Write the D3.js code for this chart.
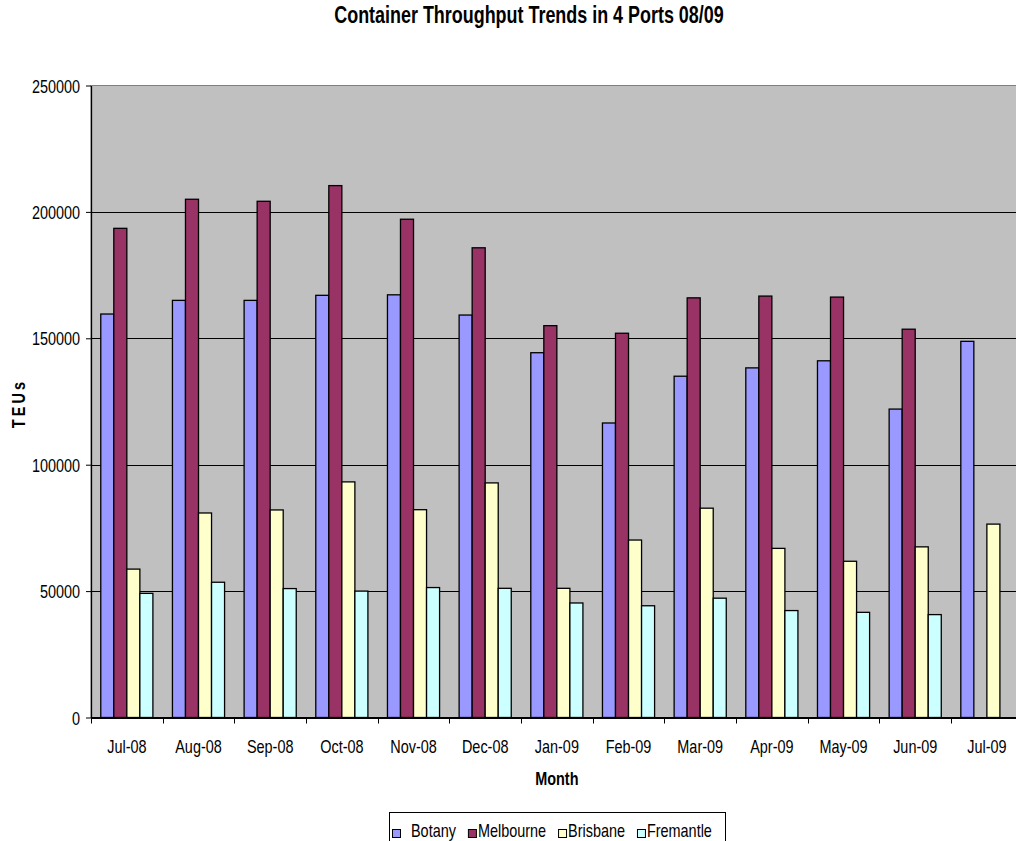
<!DOCTYPE html>
<html>
<head>
<meta charset="utf-8">
<script src="https://cdn.jsdelivr.net/npm/d3@7"></script>
<style>
  body { margin: 0; background: #fff; }
  svg { display: block; font-family: "Liberation Sans", Arial, sans-serif; }
</style>
</head>
<body>
<svg width="1016" height="841"></svg>
<script>
var months = ["Jul-08", "Aug-08", "Sep-08", "Oct-08", "Nov-08", "Dec-08", "Jan-09",
	"Feb-09", "Mar-09", "Apr-09", "May-09", "Jun-09", "Jul-09"];
var botany = [159600, 165000, 165000, 167000, 167200, 159200, 144300, 116500, 135000, 138300, 141100, 122000, 148800];
var melbourne = [193500, 205000, 204200, 210400, 197100, 185800, 155000, 152000, 166000, 166700, 166300, 153600, null];
var brisbane = [58700, 80900, 82100, 93200, 82200, 92800, 51100, 70200, 82800, 66900, 61800, 67500, 76500];
var fremantle = [49100, 53500, 51000, 50000, 51400, 51100, 45300, 44200, 47200, 42300, 41600, 40700, null];
var seriesNames = ["Botany", "Melbourne", "Brisbane", "Fremantle"];
var seriesColors = ["#9999FF", "#993366", "#FFFFCC", "#CCFFFF"];
var yTicks = [0, 50000, 100000, 150000, 200000, 250000];

var seriesValues = [botany, melbourne, brisbane, fremantle];

var NARROW = 0.78; // text in the original is a condensed face
var FONT = "18.5px";
var svg = d3.select("svg");

var plotLeft = 91, plotTop = 85.5, plotBottom = 717.5;
var step = 71.67;
var plotRight = plotLeft + step * months.length;
var gap = 0.2727;

var x = d3.scaleBand().domain(months).range([plotLeft, plotRight])
	.paddingInner(gap).paddingOuter(gap / 2);
var x1 = d3.scaleBand().domain(seriesNames).range([0, x.bandwidth()]);
var y = d3.scaleLinear().domain([0, 250000]).range([plotBottom, plotTop]);

// plot area
svg.append("rect")
	.attr("x", plotLeft).attr("y", plotTop)
	.attr("width", plotRight - plotLeft).attr("height", plotBottom - plotTop)
	.attr("fill", "#C0C0C0").attr("stroke", "#808080");

// gridlines
svg.append("g").selectAll("line")
	.data(yTicks.slice(1, -1))
	.enter().append("line")
	.attr("x1", plotLeft).attr("x2", plotRight)
	.attr("y1", function(d) { return Math.round(y(d)) + 0.5; })
	.attr("y2", function(d) { return Math.round(y(d)) + 0.5; })
	.attr("stroke", "#000").attr("stroke-width", 1);

// bars
var groups = svg.append("g").selectAll("g")
	.data(months)
	.enter().append("g")
	.attr("transform", function(d) { return "translate(" + x(d) + ",0)"; });

groups.selectAll("rect")
	.data(function(d, i) {
		return seriesNames.map(function(s, j) { return { key: s, idx: j, value: seriesValues[j][i] }; })
			.filter(function(v) { return v.value != null; });
	})
	.enter().append("rect")
	.attr("x", function(d) { return x1(d.key); })
	.attr("y", function(d) { return y(d.value); })
	.attr("width", x1.bandwidth())
	.attr("height", function(d) { return plotBottom - y(d.value); })
	.attr("fill", function(d) { return seriesColors[d.idx]; })
	.attr("stroke", "#000").attr("stroke-width", 1.3);

// y axis
var yAxis = d3.axisLeft(y).tickValues(yTicks).tickSize(5).tickSizeOuter(0).tickFormat(d3.format("d"));
var gy = svg.append("g").attr("transform", "translate(" + plotLeft + ",0)").call(yAxis);
gy.select(".domain").attr("stroke", "#000").attr("stroke-width", 1.3);
gy.selectAll(".tick line").attr("stroke", "#000");
gy.selectAll("text")
	.attr("x", -11 / NARROW).attr("dy", "0.36em")
	.attr("transform", "scale(" + NARROW + ",1)")
	.attr("fill", "#000")
	.style("font-size", FONT).style("font-family", "'Liberation Sans', Arial, sans-serif");

// x axis: labels centred, ticks on the category boundaries
var xAxis = d3.axisBottom(x).tickSize(0).tickSizeOuter(0);
var gx = svg.append("g").attr("transform", "translate(0," + plotBottom + ")").call(xAxis);
gx.select(".domain").attr("stroke", "#000").attr("stroke-width", 2);
gx.selectAll("text")
	.attr("y", 35.5).attr("dy", 0)
	.attr("transform", "scale(" + NARROW + ",1)")
	.attr("fill", "#000")
	.style("font-size", FONT).style("font-family", "'Liberation Sans', Arial, sans-serif");
// boundaries, scaled through x.step()
gx.selectAll(".boundary")
	.data(d3.range(months.length + 1))
	.enter().append("line")
	.attr("class", "boundary")
	.attr("x1", function(i) { return Math.round(plotLeft + i * x.step()) + 0.5; })
	.attr("x2", function(i) { return Math.round(plotLeft + i * x.step()) + 0.5; })
	.attr("y1", 0).attr("y2", 6)
	.attr("stroke", "#000");

// title and axis titles
svg.append("text")
	.attr("transform", "translate(529,22.7) scale(" + NARROW + ",1)")
	.attr("text-anchor", "middle")
	.style("font-weight", "bold").style("font-size", "23px")
	.text("Container Throughput Trends in 4 Ports 08/09");

svg.append("text")
	.attr("transform", "translate(" + ((plotLeft + plotRight) / 2) + ",785) scale(" + NARROW + ",1)")
	.attr("text-anchor", "middle")
	.style("font-weight", "bold").style("font-size", FONT)
	.text("Month");

svg.append("text")
	.attr("transform", "translate(25," + ((plotTop + plotBottom) / 2 + 2) + ") rotate(-90) scale(" + NARROW + ",1)")
	.attr("text-anchor", "middle")
	.style("font-weight", "bold").style("font-size", FONT)
	.style("letter-spacing", "4px")
	.text("TEUs");

// legend
var legend = svg.append("g");
legend.append("rect")
	.attr("x", 389.5).attr("y", 812.5).attr("width", 336).attr("height", 40)
	.attr("fill", "#fff").attr("stroke", "#000");

var lx = 392;
seriesNames.forEach(function(name, j) {
	var off = j === 0 ? 19 : 10;
	legend.append("rect")
		.attr("x", lx + 0.5).attr("y", 829.5).attr("width", 8).attr("height", 8)
		.attr("fill", seriesColors[j]).attr("stroke", "#000");
	var t = legend.append("text")
		.attr("transform", "translate(" + (lx + off) + ",836.5) scale(" + NARROW + ",1)")
		.style("font-size", FONT)
		.text(name);
	lx += off + t.node().getComputedTextLength() * NARROW + 12;
});
</script>
</body>
</html>
